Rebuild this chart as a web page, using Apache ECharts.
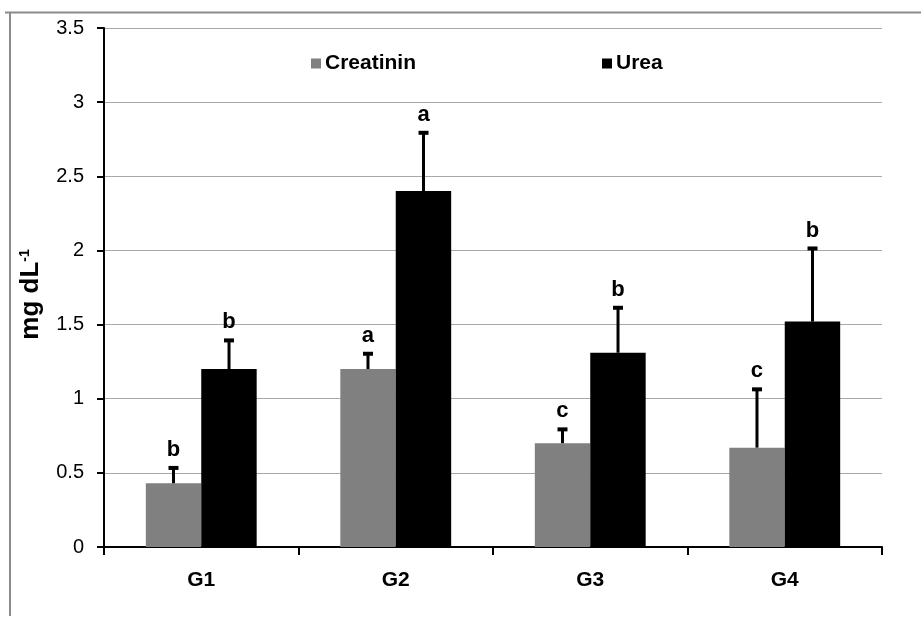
<!DOCTYPE html>
<html>
<head>
<meta charset="utf-8">
<script src="https://cdn.jsdelivr.net/npm/echarts@6/dist/echarts.min.js"></script>
<style>html,body{margin:0;padding:0;background:#fff;}#c{width:921px;height:618px;}</style>
</head>
<body>
<div id="c"></div>
<script>
var categories = ['G1', 'G2', 'G3', 'G4'];
var creatinin = [0.43, 1.2, 0.7, 0.67];
var creatininErr = [0.11, 0.11, 0.1, 0.4];
var creatininLetters = ['b', 'a', 'c', 'c'];
var urea = [1.2, 2.4, 1.31, 1.52];
var ureaErr = [0.2, 0.4, 0.31, 0.5];
var ureaLetters = ['b', 'a', 'b', 'b'];
var yTicks = [0, 0.5, 1, 1.5, 2, 2.5, 3, 3.5];

var FONT = "'Liberation Sans', Arial, sans-serif";
var GROUP_FRAC = 0.571;

function errSeries(name, vals, errs, letters, side) {
  return {
    type: 'custom',
    name: name + ' err',
    z: 10,
    data: vals.map(function (v, i) { return [i, v, errs[i], letters[i]]; }),
    renderItem: function (params, api) {
      var idx = api.value(0), v = api.value(1), e = api.value(2);
      var band = api.size([1, 0])[0];
      var base = api.coord([idx, v]);
      var top = api.coord([idx, v + e]);
      var x = base[0] + side * band * GROUP_FRAC / 4;
      var letter = letters[params.dataIndex];
      return {
        type: 'group',
        children: [
          { type: 'line', shape: { x1: x, y1: base[1], x2: x, y2: top[1] }, style: { stroke: '#000', lineWidth: 3 } },
          { type: 'line', shape: { x1: x - 5, y1: top[1] + 1, x2: x + 5, y2: top[1] + 1 }, style: { stroke: '#000', lineWidth: 4 } },
          { type: 'text', x: x, y: top[1] - 6, style: { text: letter, fill: '#000', font: 'bold 22px ' + FONT, textAlign: 'center', textVerticalAlign: 'bottom' } }
        ]
      };
    }
  };
}

var chart = echarts.init(document.getElementById('c'), null, { renderer: 'canvas' });
chart.setOption({
  animation: false,
  backgroundColor: '#fff',
  textStyle: { fontFamily: FONT },
  graphic: [
    { type: 'line', shape: { x1: 5, y1: 12.5, x2: 921, y2: 12.5 }, style: { stroke: '#8a8a8a', lineWidth: 2 } },
    { type: 'line', shape: { x1: 10, y1: 12, x2: 10, y2: 616 }, style: { stroke: '#8a8a8a', lineWidth: 2 } }
  ],
  legend: {
    left: 306, top: 48,
    itemWidth: 10, itemHeight: 10, itemGap: 186,
    icon: 'rect',
    data: ['Creatinin', 'Urea'],
    textStyle: { fontSize: 21, fontWeight: 'bold', color: '#000', fontFamily: FONT, padding: [0, 0, 0, -1] }
  },
  grid: { left: 104, right: 39, top: 28, bottom: 71 },
  xAxis: {
    type: 'category',
    data: categories,
    boundaryGap: true,
    axisLine: { lineStyle: { color: '#000', width: 2 } },
    axisTick: { show: true, length: 8, lineStyle: { color: '#000', width: 2 } },
    axisLabel: { fontSize: 21, fontWeight: 'bold', color: '#000', margin: 23, fontFamily: FONT }
  },
  yAxis: {
    type: 'value',
    min: yTicks[0], max: yTicks[yTicks.length - 1], interval: 0.5,
    name: '{m|mg dL}{s|-1}',
    nameLocation: 'middle',
    nameGap: 60,
    nameRotate: 90,
    nameTextStyle: {
      padding: [0, 14, 0, 0],
      rich: {
        m: { fontSize: 26, fontWeight: 'bold', color: '#000', fontFamily: FONT },
        s: { fontSize: 14, fontWeight: 'bold', color: '#000', fontFamily: FONT, verticalAlign: 'top', padding: [0, 0, 11, 0] }
      }
    },
    axisLine: { show: true, lineStyle: { color: '#000', width: 2 } },
    axisTick: { show: true, length: 7, lineStyle: { color: '#000', width: 2 } },
    axisLabel: { fontSize: 20, color: '#000', margin: 20, fontFamily: FONT },
    splitLine: { lineStyle: { color: '#a8a8a8', width: 1 } }
  },
  series: [
    { name: 'Creatinin', type: 'bar', data: creatinin, barGap: '0%', barCategoryGap: '43%', itemStyle: { color: '#808080' } },
    { name: 'Urea', type: 'bar', data: urea, barGap: '0%', barCategoryGap: '43%', itemStyle: { color: '#000' } },
    errSeries('Creatinin', creatinin, creatininErr, creatininLetters, -1),
    errSeries('Urea', urea, ureaErr, ureaLetters, 1)
  ]
});
</script>
</body>
</html>
